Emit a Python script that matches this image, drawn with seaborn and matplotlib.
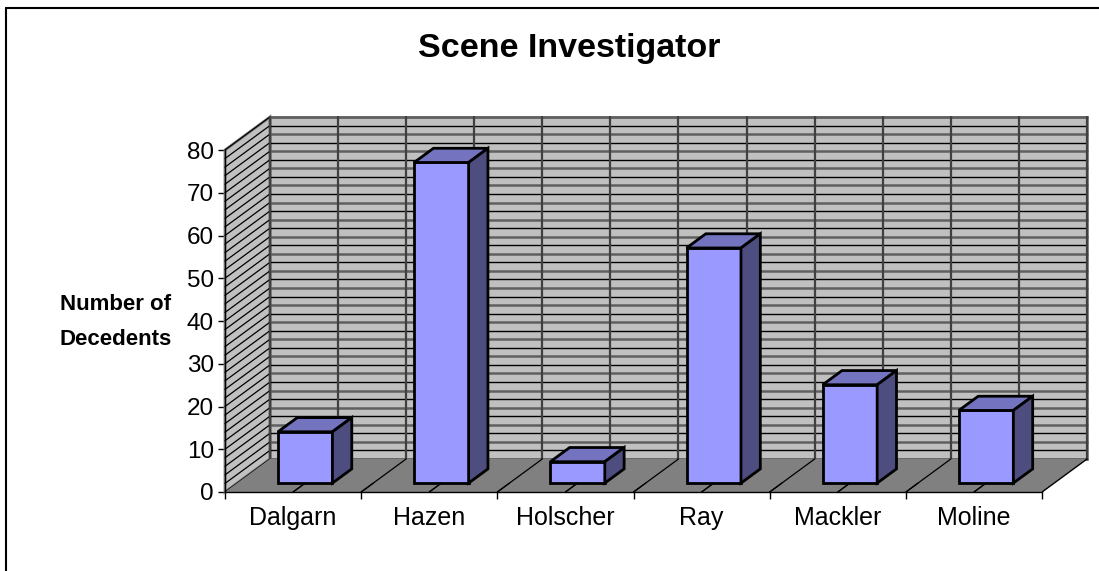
import matplotlib
matplotlib.use("Agg")
import matplotlib.pyplot as plt
import seaborn as sns
from matplotlib.patches import Polygon, Rectangle

investigators = ["Dalgarn", "Hazen", "Holscher", "Ray", "Mackler", "Moline"]
decedents = [12, 75, 5, 55, 23, 17]
y_ticks = list(range(0, 81, 10))

sns.set_style("white")
plt.rcParams["font.family"] = ["Liberation Sans", "DejaVu Sans"]
plt.rcParams["text.color"] = "black"

# 3d look: depth vector of the plot box in data units, bar placement in depth
dx, dy = 0.330, 7.72
f0, bd = 0.27, 0.43
ymax = 80
n = len(investigators)

fig = plt.figure(figsize=(10.99, 5.71), dpi=100)
ax = fig.add_axes([0, 0, 1, 1])

sns.barplot(x=investigators, y=decedents, ax=ax, width=0.4, color="#9999FF",
            saturation=1, edgecolor="black", linewidth=2, zorder=5)
bars = list(ax.patches)

# back wall
ax.add_patch(Rectangle((-0.5 + dx, dy), n, ymax, facecolor="#C0C0C0",
                       edgecolor="#808080", lw=2, zorder=1))
# side wall
ax.add_patch(Polygon([(-0.5, 0), (-0.5, ymax), (-0.5 + dx, ymax + dy), (-0.5 + dx, dy)],
                     facecolor="#C0C0C0", edgecolor="#808080", lw=2, zorder=1))
for i, v in enumerate(range(0, ymax + 1, 2)):
    # horizontal gridlines on back wall, diagonal ones on the side wall
    col, lw = ("black", 1.0) if i % 2 else ("#606060", 1.8)
    ax.plot([-0.5 + dx, n - 0.5 + dx], [v + dy, v + dy], color=col, lw=lw, zorder=1.5)
    ax.plot([-0.5, -0.5 + dx], [v, v + dy], color="black", lw=0.9, zorder=1.5)
for k in range(2 * n + 1):
    xv = -0.5 + k * 0.5
    ax.plot([xv + dx, xv + dx], [dy, ymax + dy], color="#404040", lw=1.6, zorder=1.6)

# floor
ax.add_patch(Polygon([(-0.5, 0), (n - 0.5, 0), (n - 0.5 + dx, dy), (-0.5 + dx, dy)],
                     facecolor="#808080", edgecolor="none", zorder=2))
ax.plot([n - 0.5, n - 0.5 + dx], [0, dy], color="black", lw=1, zorder=2.5)
for k in range(1, 2 * n):
    xv = -0.5 + k * 0.5
    ax.plot([xv, xv + dx], [0, dy], color="black", lw=0.9, zorder=2.5)
    ax.plot([xv, xv + f0 * dx], [0, f0 * dy], color="black", lw=0.9, zorder=6)

# push bars back and add top and side faces
for b in bars:
    x0 = b.get_x() + f0 * dx
    y0 = f0 * dy
    w, h = b.get_width(), b.get_height()
    b.set_x(x0)
    b.set_y(y0)
    top = [(x0, y0 + h), (x0 + w, y0 + h), (x0 + w + bd * dx, y0 + h + bd * dy),
           (x0 + bd * dx, y0 + h + bd * dy)]
    side = [(x0 + w, y0), (x0 + w + bd * dx, y0 + bd * dy),
            (x0 + w + bd * dx, y0 + h + bd * dy), (x0 + w, y0 + h)]
    ax.add_patch(Polygon(top, facecolor="#7373BF", edgecolor="black", lw=2, zorder=5))
    ax.add_patch(Polygon(side, facecolor="#4D4D80", edgecolor="black", lw=2, zorder=5))

ax.set_xlim(-2.152, 5.918)
ax.set_ylim(-18.48, 115.09)
ax.set_facecolor("white")

for s in ["top", "right"]:
    ax.spines[s].set_visible(False)
ax.spines["left"].set_position(("data", -0.5))
ax.spines["left"].set_bounds(0, ymax)
ax.spines["bottom"].set_position(("data", 0))
ax.spines["bottom"].set_bounds(-0.5, n - 0.5)
for s in ["left", "bottom"]:
    ax.spines[s].set_color("black")
    ax.spines[s].set_linewidth(1)
    ax.spines[s].set_zorder(7)

ax.set_yticks(y_ticks)
ax.set_yticklabels([str(t) for t in y_ticks])
ax.set_xticks(range(n))
ax.set_xticklabels(investigators)
ax.set_xticks([k - 0.5 for k in range(n + 1)], minor=True)
ax.tick_params(axis="y", direction="out", length=5, width=1, pad=3, labelsize=17.5,
               left=True, colors="black")
ax.tick_params(axis="x", which="major", length=0, pad=10, labelsize=18, colors="black")
ax.tick_params(axis="x", which="minor", direction="out", length=5, width=1, bottom=True,
               colors="black")
ax.set_xlabel("")
ax.set_ylabel("")

fig.text(569 / 1099, 1 - 49 / 571, "Scene Investigator", ha="center", va="center",
         fontsize=24.5, fontweight="bold")
fig.text(116 / 1099, 1 - 322 / 571, "Number of\nDecedents", ha="center", va="center",
         fontsize=16, fontweight="bold", linespacing=1.9)

# chart border
fig.add_artist(plt.Line2D([6 / 1099, 6 / 1099], [0, 1 - 8 / 571], color="black", lw=1.5))
fig.add_artist(plt.Line2D([6 / 1099, 1], [1 - 8 / 571, 1 - 8 / 571], color="black", lw=1.5))

fig.savefig("out.png", dpi=100)
